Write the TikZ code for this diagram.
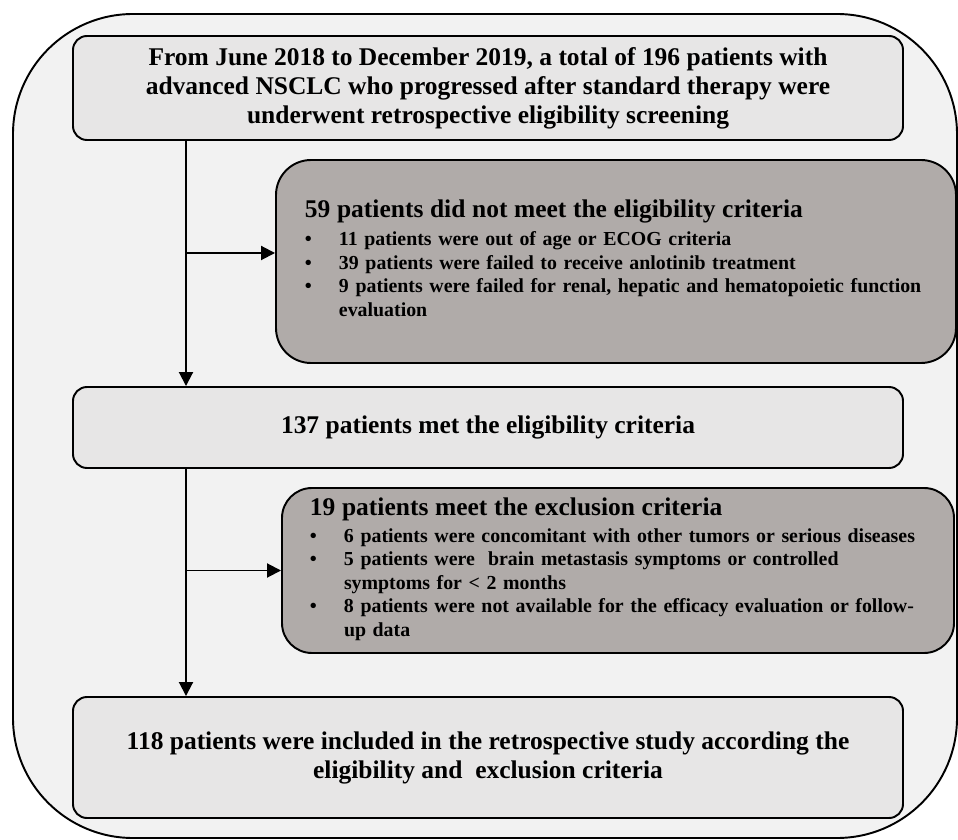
\documentclass[tikz,border=0pt]{standalone}
\usepackage{fontspec}
\setmainfont{Liberation Serif}
\usepackage{xcolor}
\usetikzlibrary{arrows.meta}
\definecolor{framegray}{HTML}{F2F2F2}
\definecolor{boxgray}{HTML}{E7E6E6}
\definecolor{exclgray}{HTML}{B0ABA9}
\newcommand{\headfont}{\fontsize{14.5}{16.5}\selectfont}

\begin{document}
\begin{tikzpicture}[x=0.2mm,y=-0.2mm,
    lightbox/.style={draw=black,line width=1.1pt,fill=boxgray,rounded corners=2.8mm,
      align=center,inner sep=0pt,minimum width=166mm,
      font=\fontsize{14.5}{16.5}\selectfont\bfseries},
    darkbox/.style={draw=black,line width=1.1pt,fill=exclgray,rounded corners=7mm,
      align=left,font=\fontsize{11.3}{13.4}\selectfont\bfseries},
    flow/.style={line width=1.1pt,-{Triangle[length=2.8mm,width=2.8mm]}}]
\useasboundingbox (0,0) rectangle (958,840);
% outer frame
\filldraw[fill=framegray,draw=black,line width=1.1pt,rounded corners=24mm]
    (13,14) rectangle (957,838);
\coordinate (trunk) at (186,0);

\node[lightbox,minimum height=20.8mm] (top) at (488,88)
    {From June 2018 to December 2019, a total of 196 patients with\\
     advanced NSCLC who progressed after standard therapy were\\
     underwent retrospective eligibility screening};
\node[darkbox,text width=124.4mm,inner xsep=5.8mm,minimum height=40.6mm] (ex1) at (616,261.5)
    {\begin{tabular}{@{}p{6.8mm}@{}l@{}}
     \multicolumn{2}{@{}l@{}}{\headfont 59 patients did not meet the eligibility criteria}\\[3pt]
     \textbullet & 11 patients were out of age or ECOG criteria\\
     \textbullet & 39 patients were failed to receive anlotinib treatment\\
     \textbullet & 9 patients were failed for renal, hepatic and hematopoietic function\\
                 & evaluation
     \end{tabular}};
\node[lightbox,minimum height=16.2mm] (mid) at (488,427.5)
    {137 patients met the eligibility criteria};
\node[darkbox,rounded corners=6mm,text width=123.2mm,inner xsep=5.6mm,minimum height=33mm] (ex2) at (618,570.5)
    {\begin{tabular}{@{}p{6.8mm}@{}l@{}}
     \multicolumn{2}{@{}l@{}}{\headfont 19 patients meet the exclusion criteria}\\[2pt]
     \textbullet & 6 patients were concomitant with other tumors or serious diseases\\
     \textbullet & 5 patients were~ brain metastasis symptoms or controlled\\
                 & symptoms for < 2 months\\
     \textbullet & 8 patients were not available for the efficacy evaluation or follow-\\
                 & up data
     \end{tabular}};
\node[lightbox,minimum height=24.2mm] (final) at (488,757.5)
    {118 patients were included in the retrospective study according the\\
     eligibility and~ exclusion criteria};

% connectors
\draw[flow] (top.south -| trunk) -- (mid.north -| trunk);
\draw[flow] ([yshift=1.7mm]ex1.west -| trunk) -- ([yshift=1.7mm]ex1.west);
\draw[flow] (mid.south -| trunk) -- (final.north -| trunk);
\draw[flow] (ex2.west -| trunk) -- (ex2.west);
\end{tikzpicture}
\end{document}
